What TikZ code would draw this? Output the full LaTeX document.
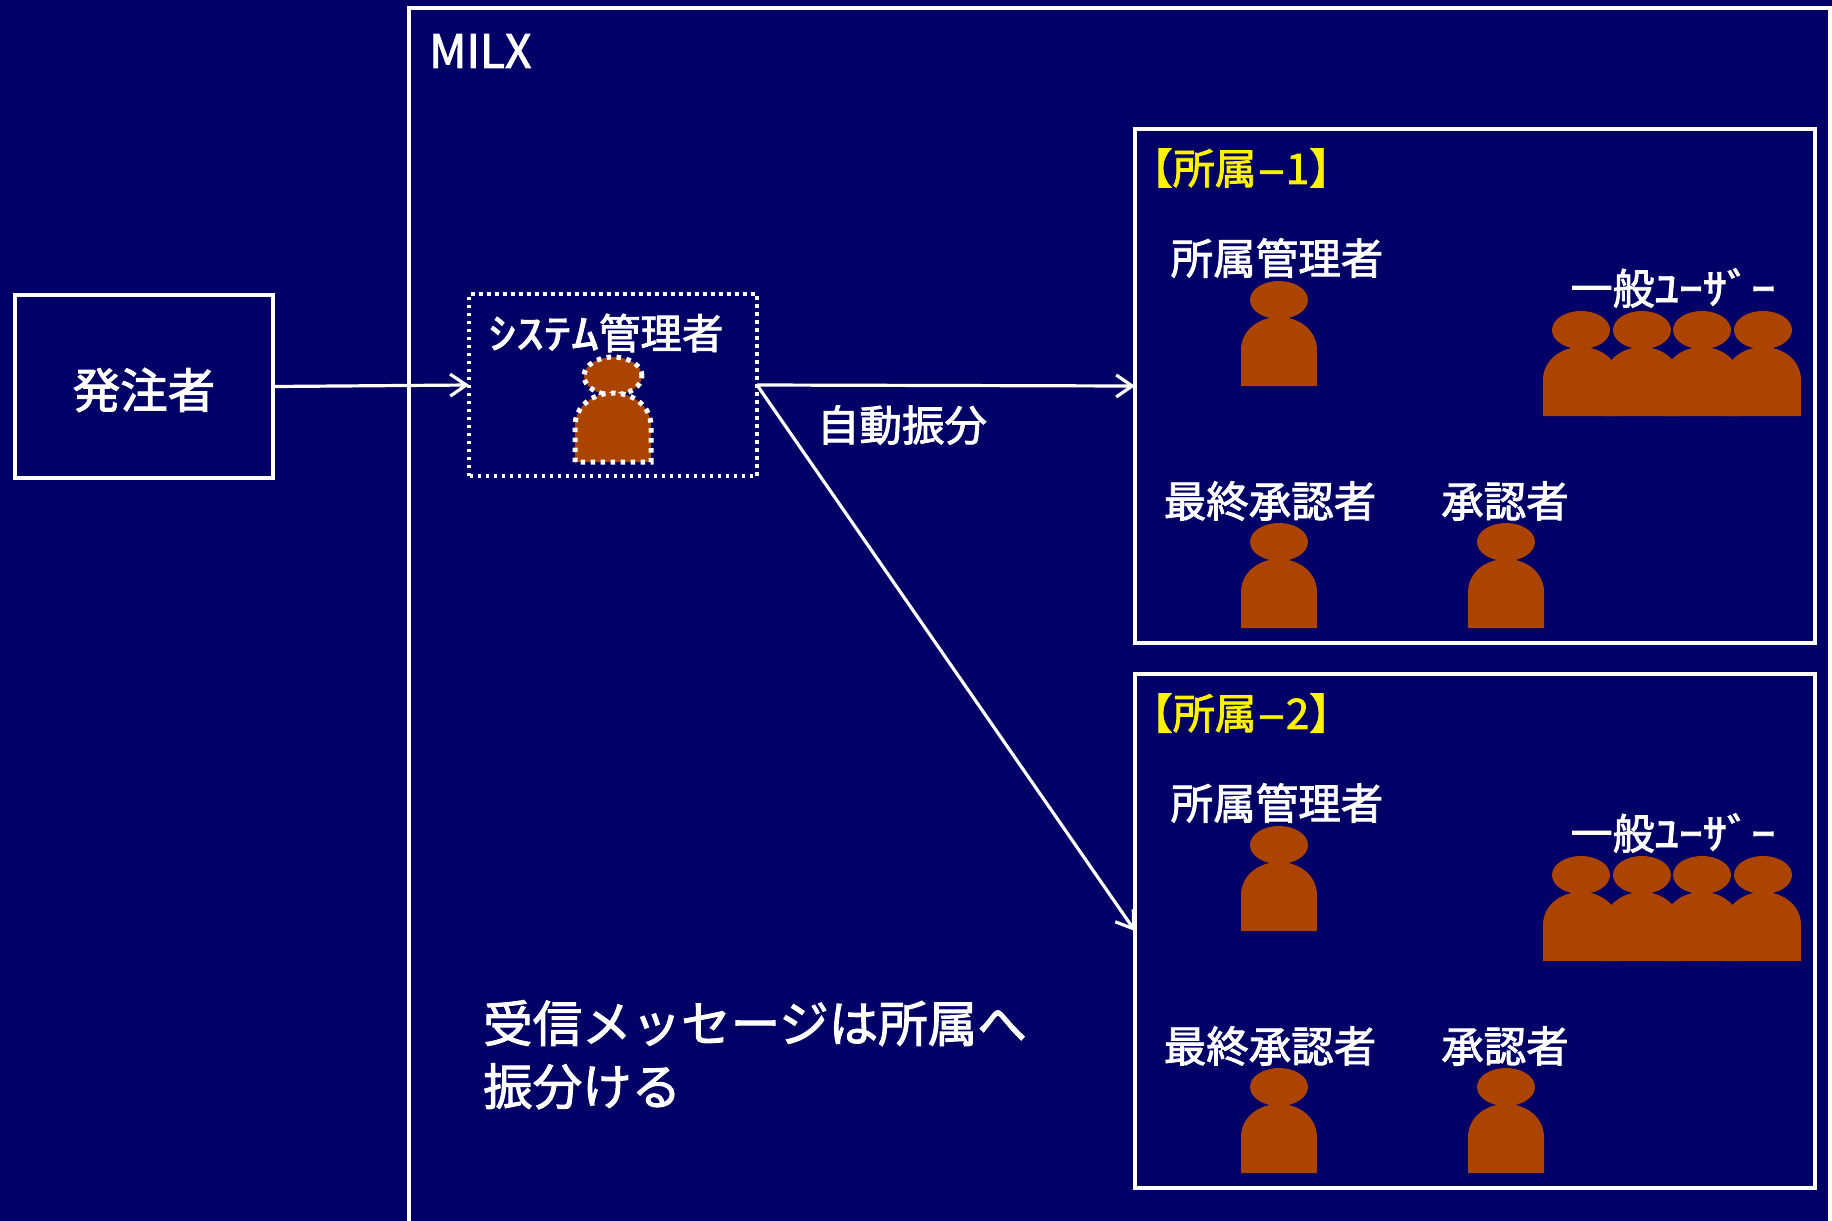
\documentclass[tikz,border=0pt]{standalone}
\usepackage{fontspec}
\setmainfont[FakeBold=2]{Noto Sans CJK JP}
\usetikzlibrary{arrows.meta}
\definecolor{navy}{RGB}{0,0,102}
\definecolor{rust}{RGB}{170,68,0}
\newcommand{\fsize}[1]{\fontsize{#1pt}{#1pt}\selectfont}
\tikzset{
	pics/person/.style n args={3}{
		code = {
			\draw[#3] (#1, #2-86) ellipse [x radius=29pt, y radius=19pt];
			\draw[#3] (#1-38, #2) -- (#1-38, #2-36) .. controls (#1-38, #2-55) and (#1-21, #2-69) .. (#1, #2-69) .. controls (#1+21, #2-69) and (#1+38, #2-55) .. (#1+38, #2-36) -- (#1+38, #2) -- cycle;
		}
	},
	plain/.style={fill=rust, draw=none},
	dotty/.style={fill=rust, draw=white, line width=5pt, dash pattern=on 4.5pt off 5.5pt},
	box/.style={draw=white, line width=3.2pt, inner sep=0pt, outer sep=0pt},
	label/.style={text=white, inner sep=0pt},
	heading/.style={text=yellow, inner sep=0pt}
}

\begin{document}
\begin{tikzpicture}[x=1pt, y=-1pt, line/.style={white, line width=3.2pt, -{Straight Barb[length=16pt, width=22pt, line width=3.2pt]}}]

	\useasboundingbox (0, 0) rectangle (1832, 1221);
	\fill[navy] (0, 0) rectangle (1832, 1221);

	% MILX frame
	\draw[white, line width=3.2pt] (409, 1221) -- (409, 8) -- (1830, 8) -- (1830, 1221);
	\node[label, anchor=west] (milx) at (429, 51) {\fsize{46}MILX};

	% boxes
	\node[box, minimum width=258pt, minimum height=183pt] (buyer) at (144, 386.5) {};
	\node[label] (buyertext) at (144, 390) {\fsize{47.5}発注者};
	\node[box, draw=none, minimum width=288pt, minimum height=182pt] (sysadmin) at (613, 385) {};
	\draw[white, line width=4.5pt, dash pattern=on 3.5pt off 4.5pt] (sysadmin.south west) rectangle (sysadmin.north east);
	\node[box, minimum width=680pt, minimum height=514pt] (deptone) at (1475, 386) {};
	\node[box, minimum width=680pt, minimum height=514pt] (depttwo) at (1475, 931) {};

	% system admin
	\node[label] (sysadmintext) at (606, 333) {\fsize{41.5}\scalebox{1.33}[1]{ｼｽﾃﾑ}管理者};
	\pic{person={613}{462}{dotty}};

	% first department
	\node[heading] (deptonetitle) at (1241, 168) {\fsize{42}【所属\scalebox{2}[1]{-}1】};
	\node[label] (managerone) at (1277, 258) {\fsize{42.5}所属管理者};
	\node[label] (usersone) at (1673, 288) {\fsize{42}一般\scalebox{1.15}[1]{ﾕｰｻﾞｰ}};
	\node[label] (finalone) at (1270, 501) {\fsize{42.5}最終承認者};
	\node[label] (approverone) at (1505, 501) {\fsize{42.5}承認者};
	\pic{person={1279}{386}{plain}};
	\pic{person={1279}{628}{plain}};
	\pic{person={1506}{628}{plain}};
	\pic{person={1581}{416}{plain}};
	\pic{person={1642}{416}{plain}};
	\pic{person={1702}{416}{plain}};
	\pic{person={1763}{416}{plain}};

	% second department
	\node[heading] (depttwotitle) at (1241, 713) {\fsize{42}【所属\scalebox{2}[1]{-}2】};
	\node[label] (managertwo) at (1277, 803) {\fsize{42.5}所属管理者};
	\node[label] (userstwo) at (1673, 833) {\fsize{42}一般\scalebox{1.15}[1]{ﾕｰｻﾞｰ}};
	\node[label] (finaltwo) at (1270, 1046) {\fsize{42.5}最終承認者};
	\node[label] (approvertwo) at (1505, 1046) {\fsize{42.5}承認者};
	\pic{person={1279}{931}{plain}};
	\pic{person={1279}{1173}{plain}};
	\pic{person={1506}{1173}{plain}};
	\pic{person={1581}{961}{plain}};
	\pic{person={1642}{961}{plain}};
	\pic{person={1702}{961}{plain}};
	\pic{person={1763}{961}{plain}};

	% routing
	\node[label] (routetext) at (902, 425) {\fsize{42.5}自動振分};
	\node[label, anchor=north west, align=left, font=\fontsize{49.5pt}{63pt}\selectfont] (note) at (483, 1000) {受信メッセージは所属へ\\振分ける};

	\draw[line] (buyer.east) -- (sysadmin.west);
	\draw[line] (sysadmin.east) -- (deptone.west);
	\draw[line] (sysadmin.east) -- (depttwo.west);

\end{tikzpicture}
\end{document}
